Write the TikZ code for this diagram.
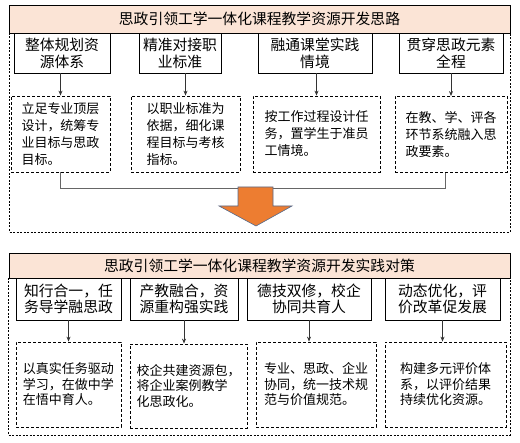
\documentclass[tikz,border=0pt]{standalone}
\usepackage{fontspec}
\setmainfont{Noto Sans CJK SC}
\usepackage{xcolor}
\usetikzlibrary{arrows.meta,positioning,calc}
\definecolor{headFill}{RGB}{251,228,214}
\definecolor{arrowFill}{RGB}{237,125,49}
\definecolor{arrowLine}{RGB}{84,106,140}

\begin{document}
\begin{tikzpicture}[x=1pt,y=-1pt,line width=0.8pt,
  headbox/.style={draw,fill=headFill,minimum width=501pt,inner sep=0pt,font=\fontsize{14.8pt}{17pt}\selectfont},
  lblbox/.style={draw,fill=white,minimum height=40pt,inner sep=0pt,align=center,font=\fontsize{14.8pt}{17pt}\selectfont},
  notebox/.style={draw,dash pattern=on 3pt off 2pt,minimum height=76pt,inner sep=0pt,align=left,font=\fontsize{13pt}{17pt}\selectfont},
  outerbox/.style={draw,dash pattern=on 2pt off 1.5pt,line width=0.7pt},
  linkarrow/.style={draw=black!80,-{Stealth[length=5pt,width=4pt]}},
  linkline/.style={draw=black!60,line width=1pt}]
  \useasboundingbox (0,0) rectangle (520,443);

  % first part: ideas
  \draw[outerbox] (9,33) rectangle (510,232);
  \node[headbox,minimum height=28pt] (h1) at (259.5,19) {思政引领工学一体化课程教学资源开发思路};
  \node[lblbox,minimum width=96pt]  (t1) at (62,53)  {整体规划资\\源体系};
  \node[lblbox,minimum width=82pt]  (t2) at (180,53) {精准对接职\\业标准};
  \node[lblbox,minimum width=114pt] (t3) at (315,53) {融通课堂实践\\情境};
  \node[lblbox,minimum width=104pt] (t4) at (451,53) {贯穿思政元素\\全程};
  \node[notebox,minimum width=99pt]  (d1) at (60.5,134)  {立足专业顶层\\设计，统筹专\\业目标与思政\\目标。};
  \node[notebox,minimum width=109pt] (d2) at (185.5,134) {以职业标准为\\依据，细化课\\程目标与考核\\指标。};
  \node[notebox,minimum width=127pt] (d3) at (316.5,134) {按工作过程设计任\\务，置学生于准员\\工情境。};
  \node[notebox,minimum width=112pt] (d4) at (451,134.5) {在教、学、评各\\环节系统融入思\\政要素。};
  \foreach \i in {1,...,4}
    \draw[linkarrow] (t\i.south -| d\i.north) -- (d\i.north);
  \draw[linkline] (d1.south) -- ++(0,16) -| ([xshift=-6pt]d4.south);

  % big arrow between the parts
  \draw[fill=arrowFill,draw=arrowLine,line width=0.6pt]
    (238,187) -- (273,187) -- (273,206) -- (292,206) -- (256,226) -- (219,206) -- (238,206) -- cycle;

  % second part: measures
  \draw[outerbox] (8,278) rectangle (510,435);
  \node[headbox,minimum height=25pt] (h2) at (259.5,265.5) {思政引领工学一体化课程教学资源开发实践对策};
  \begin{scope}[lblbox/.append style={minimum height=42pt,font=\fontsize{14.8pt}{15.5pt}\selectfont},
                notebox/.append style={minimum height=85pt,font=\fontsize{13pt}{15.5pt}\selectfont}]
    \node[lblbox,minimum width=105pt] (m1) at (68.5,299)  {知行合一，任\\务导学融思政};
    \node[lblbox,minimum width=108pt] (m2) at (184,299)   {产教融合，资\\源重构强实践};
    \node[lblbox,minimum width=124pt] (m3) at (309,299)   {德技双修，校企\\协同共育人};
    \node[lblbox,minimum width=115pt] (m4) at (442.5,299) {动态优化，评\\价改革促发展};
    \node[notebox,minimum width=105pt] (b1) at (68.5,384.5) {以真实任务驱动\\学习，在做中学\\在悟中育人。};
    \node[notebox,minimum width=117pt,minimum height=84pt] (b2) at (188.5,386) {校企共建资源包，\\将企业案例教学\\化思政化。};
    \node[notebox,minimum width=120pt] (b3) at (316,384.5) {专业、思政、企业\\协同，统一技术规\\范与价值规范。};
    \node[notebox,minimum width=121pt] (b4) at (445.5,384.5) {构建多元评价体\\系，以评价结果\\持续优化资源。};
  \end{scope}
  \foreach \i in {1,...,4}
    \draw[linkarrow] (m\i.south) -- (m\i.south |- b\i.north);
\end{tikzpicture}
\end{document}
